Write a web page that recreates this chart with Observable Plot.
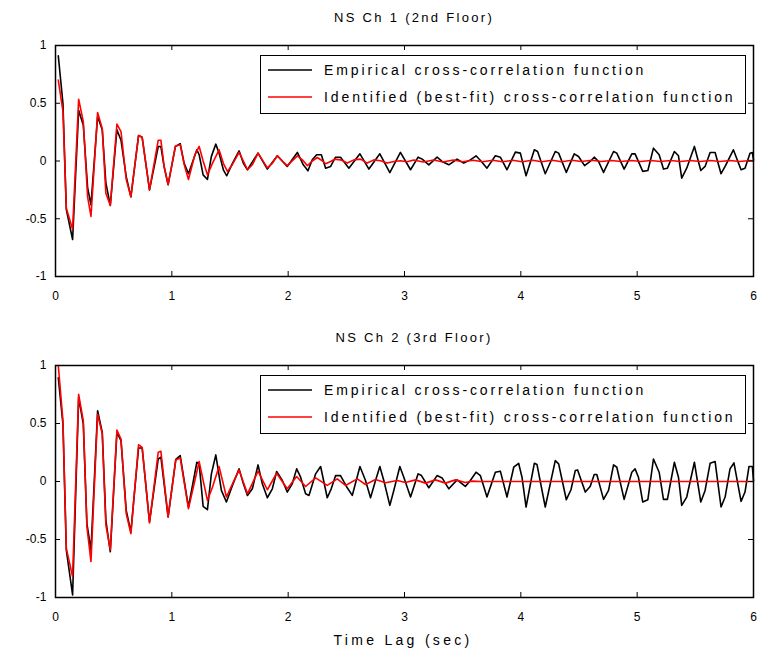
<!DOCTYPE html>
<html>
<head>
<meta charset="utf-8">
<script src="https://cdn.jsdelivr.net/npm/d3@7"></script>
<script src="https://cdn.jsdelivr.net/npm/@observablehq/plot@0.6"></script>
<style>
  html, body { margin: 0; padding: 0; background: #fff; }
  #page { position: relative; width: 761px; height: 655px; overflow: hidden; font-family: "Liberation Sans", Arial, Helvetica, sans-serif; color: #000; }
  .panel { position: absolute; left: 0; }
  .title { position: absolute; text-align: center; font-size: 13px; letter-spacing: 2.3px; white-space: nowrap; }
  .xlabel { position: absolute; text-align: center; font-size: 14px; letter-spacing: 3.3px; white-space: nowrap; }
  .legend { position: absolute; border: 1.5px solid #000; background: #fff; box-sizing: border-box; }
  .legrow { position: absolute; left: 6px; height: 16px; display: flex; align-items: center; font-size: 14px; letter-spacing: 2.9px; white-space: nowrap; }
  .legrow svg { margin-right: 11px; }
</style>
</head>
<body>
<div id="page"></div>
<script>
// ---------- data (lag in seconds, correlation value) ----------
const xTicks = [0, 1, 2, 3, 4, 5, 6];
const yTicks = [-1, -0.5, 0, 0.5, 1];
const panelTitles = ["NS Ch 1 (2nd Floor)", "NS Ch 2 (3rd Floor)"];
const seriesNames = ["Empirical cross-correlation function", "Identified (best-fit) cross-correlation function"];
const xLabel = "Time Lag (sec)";

const ch1Empirical = [
  [0.024,0.91],[0.064,0.50],[0.093,-0.42],[0.147,-0.68],[0.199,0.44],[0.239,0.31],[0.276,-0.23],[0.305,-0.38],
  [0.362,0.385],[0.402,0.27],[0.433,-0.19],[0.471,-0.385],[0.528,0.27],[0.563,0.18],[0.608,-0.135],[0.648,-0.31],
  [0.714,0.22],[0.745,0.205],[0.808,-0.25],[0.883,0.125],[0.906,0.125],[0.934,-0.05],[0.968,-0.205],
  [1.031,0.126],[1.072,0.15],[1.106,-0.02],[1.143,-0.11],[1.215,0.097],[1.235,0.054],[1.269,-0.12],[1.306,-0.16],
  [1.340,0.04],[1.378,0.146],[1.406,0.068],[1.443,-0.076],[1.472,-0.128],[1.521,-0.02],[1.578,0.088],[1.615,-0.02],
  [1.650,-0.076],[1.741,0.068],[1.821,-0.07],[1.907,0.045],[1.992,-0.047],[2.079,0.074],[2.130,-0.033],[2.170,-0.085],
  [2.207,0.01],[2.245,0.054],[2.285,0.054],[2.322,-0.062],[2.365,-0.047],[2.407,0.033],[2.450,0.033],[2.522,-0.062],
  [2.617,0.062],[2.694,-0.07],[2.788,0.062],[2.874,-0.1],[2.965,0.074],[3.052,-0.076],[3.117,0.033],[3.152,0.016],
  [3.209,-0.033],[3.280,0.033],[3.323,-0.004],[3.381,-0.033],[3.452,0.016],[3.509,-0.018],[3.566,0.01],[3.615,0.045],
  [3.661,-0.004],[3.709,-0.062],[3.781,0.045],[3.824,0.033],[3.881,-0.076],[3.953,0.077],[3.996,0.068],[4.045,-0.128],
  [4.116,0.097],[4.144,0.082],[4.210,-0.11],[4.296,0.082],[4.325,0.068],[4.391,-0.099],[4.459,0.062],[4.496,0.039],
  [4.548,-0.04],[4.596,-0.004],[4.631,0.033],[4.668,-0.004],[4.711,-0.099],[4.797,0.082],[4.825,0.068],[4.888,-0.07],
  [4.954,0.062],[4.982,0.062],[5.048,-0.09],[5.092,-0.082],[5.140,0.111],[5.189,0.054],[5.226,-0.07],[5.260,-0.062],
  [5.320,0.082],[5.355,0.045],[5.383,-0.148],[5.426,-0.062],[5.492,0.126],[5.547,-0.082],[5.584,-0.047],[5.627,0.074],
  [5.670,0.074],[5.721,-0.11],[5.756,-0.047],[5.827,0.097],[5.893,-0.076],[5.927,-0.062],[5.970,0.068],[5.990,0.074],
  [6.0,0.01]
];

const ch1Identified = [
  [0.024,0.70],[0.064,0.43],[0.093,-0.41],[0.147,-0.59],[0.199,0.535],[0.239,0.34],[0.276,-0.31],[0.305,-0.48],
  [0.362,0.42],[0.402,0.28],[0.433,-0.28],[0.471,-0.385],[0.528,0.32],[0.563,0.255],[0.608,-0.16],[0.648,-0.31],
  [0.714,0.22],[0.745,0.205],[0.808,-0.25],[0.883,0.18],[0.906,0.18],[0.934,-0.05],[0.968,-0.205],
  [1.031,0.13],[1.072,0.14],[1.106,-0.03],[1.143,-0.16],[1.197,0.05],[1.235,0.126],[1.269,0.0],[1.306,-0.12],
  [1.349,-0.02],[1.406,0.097],[1.443,-0.02],[1.478,-0.09],[1.521,-0.03],[1.578,0.074],[1.615,0.0],[1.650,-0.076],
  [1.692,-0.033],[1.741,0.068],[1.778,0.01],[1.821,-0.06],[1.864,-0.02],[1.907,0.045],[1.950,0.0],[1.992,-0.04],
  [2.079,0.045],[2.122,0.01],[2.165,-0.04],[2.207,0.0],[2.251,0.03],[2.293,0.002],[2.322,-0.024],[2.365,-0.004],
  [2.399,0.016],[2.450,0.01],[2.508,-0.018],[2.565,0.01],[2.622,0.016],[2.680,-0.018],[2.737,0.01],[2.794,0.002],
  [2.851,-0.018],[2.908,-0.004],[2.965,0.002],[3.023,-0.007],[3.08,0.009],[3.16,-0.008],[3.25,0.008],[3.33,-0.008],
  [3.42,0.008],[3.50,-0.007],[3.59,0.007],[3.67,-0.007],[3.76,0.007],[3.84,-0.007],[3.93,0.006],[4.01,-0.006],
  [4.10,0.006],[4.18,-0.006],[4.27,0.006],[4.35,-0.006],[4.44,0.006],[4.52,-0.005],[4.61,0.006],[4.69,-0.005],
  [4.78,0.005],[4.86,-0.005],[4.95,0.005],[5.03,-0.005],[5.12,0.005],[5.20,-0.005],[5.29,0.005],[5.37,-0.004],
  [5.46,0.005],[5.54,-0.004],[5.63,0.004],[5.71,-0.004],[5.80,0.004],[5.88,-0.004],[5.97,0.004],[6.0,0.0]
];

const ch2Empirical = [
  [0.024,0.895],[0.064,0.495],[0.093,-0.592],[0.147,-0.978],[0.199,0.723],[0.239,0.495],[0.270,-0.363],[0.305,-0.59],
  [0.362,0.61],[0.402,0.423],[0.433,-0.334],[0.471,-0.606],[0.528,0.423],[0.563,0.352],[0.608,-0.249],[0.648,-0.435],
  [0.714,0.289],[0.745,0.289],[0.808,-0.349],[0.883,0.194],[0.906,0.209],[0.968,-0.306],[1.034,0.19],
  [1.072,0.223],[1.106,0.009],[1.143,-0.22],[1.215,0.166],[1.235,0.152],[1.269,-0.214],[1.306,-0.243],[1.340,0.066],
  [1.378,0.229],[1.426,-0.077],[1.469,-0.177],[1.521,-0.034],[1.578,0.109],[1.615,-0.02],[1.650,-0.12],[1.692,-0.063],
  [1.741,0.143],[1.778,-0.02],[1.821,-0.14],[1.864,-0.063],[1.901,0.086],[1.950,0.009],[1.992,-0.091],[2.035,-0.02],
  [2.073,0.109],[2.107,0.037],[2.150,-0.106],[2.179,-0.12],[2.236,0.066],[2.279,0.129],[2.336,-0.14],[2.370,-0.063],
  [2.408,0.051],[2.450,0.051],[2.508,-0.054],[2.551,-0.12],[2.617,0.129],[2.665,0.009],[2.708,-0.14],[2.751,0.009],
  [2.788,0.129],[2.822,0.009],[2.874,-0.206],[2.908,-0.077],[2.960,0.129],[2.994,0.037],[3.052,-0.134],[3.117,0.066],
  [3.146,0.051],[3.209,-0.054],[3.280,0.051],[3.323,0.031],[3.381,-0.063],[3.452,0.014],[3.523,-0.043],[3.566,0.009],
  [3.615,0.08],[3.652,0.051],[3.709,-0.134],[3.781,0.08],[3.824,0.089],[3.881,-0.134],[3.939,0.123],[3.981,0.157],
  [4.010,0.037],[4.045,-0.22],[4.116,0.157],[4.139,0.146],[4.210,-0.22],[4.296,0.18],[4.325,0.152],[4.391,-0.157],
  [4.431,-0.071],[4.468,0.094],[4.488,0.1],[4.554,-0.091],[4.596,-0.043],[4.631,0.06],[4.653,0.06],[4.711,-0.154],
  [4.754,-0.077],[4.797,0.143],[4.825,0.123],[4.888,-0.154],[4.954,0.08],[4.982,0.109],[5.011,0.037],[5.048,-0.177],
  [5.092,-0.157],[5.140,0.194],[5.189,0.08],[5.226,-0.154],[5.260,-0.154],[5.320,0.166],[5.355,0.037],[5.383,-0.206],
  [5.426,-0.134],[5.492,0.166],[5.547,-0.177],[5.584,-0.077],[5.627,0.157],[5.670,0.172],[5.721,-0.22],[5.756,-0.134],
  [5.798,0.109],[5.832,0.16],[5.893,-0.171],[5.927,-0.091],[5.961,0.129],[5.990,0.129],[6.0,0.009]
];

const ch2Identified = [
  [0.024,1.0],[0.064,0.523],[0.093,-0.577],[0.147,-0.82],[0.199,0.752],[0.239,0.523],[0.270,-0.39],[0.305,-0.69],
  [0.362,0.58],[0.402,0.41],[0.433,-0.377],[0.471,-0.59],[0.528,0.443],[0.563,0.366],[0.608,-0.277],[0.648,-0.449],
  [0.714,0.317],[0.745,0.294],[0.808,-0.357],[0.883,0.252],[0.906,0.26],[0.968,-0.306],[1.034,0.186],
  [1.072,0.203],[1.143,-0.234],[1.235,0.172],[1.269,0.009],[1.306,-0.163],[1.349,-0.049],[1.406,0.129],[1.449,-0.049],
  [1.469,-0.134],[1.521,-0.02],[1.578,0.1],[1.650,-0.106],[1.741,0.089],[1.821,-0.071],[1.901,0.071],[1.992,-0.063],
  [2.073,0.043],[2.150,-0.043],[2.236,0.031],[2.336,-0.034],[2.422,0.023],[2.493,-0.034],[2.594,0.023],[2.665,-0.026],
  [2.751,0.017],[2.837,-0.011],[2.937,0.009],[3.009,-0.009],[3.095,0.014],[3.181,-0.014],[3.266,0.014],[3.352,-0.014],
  [3.438,0.014],[3.523,-0.009],[3.580,0.003],[3.66,0.0],[4.0,0.0],[4.5,0.0],[5.0,0.0],[5.5,0.0],[6.0,0.0]
];

// ---------- drawing ----------
const page = document.getElementById("page");
const fmt = d => String(d);
const FRAME_W = 761 - 55 - 8;
const TICK = 5;

function panel(emp, fit, frameH) {
  const asRows = arr => arr.map(([t, v]) => ({t, v}));
  return Plot.plot({
    width: 761,
    height: 45 + frameH + 35,
    marginLeft: 55, marginRight: 8, marginTop: 45, marginBottom: 35,
    x: {domain: [0, 6]},
    y: {domain: [-1, 1]},
    style: {fontFamily: "'Liberation Sans', Arial, sans-serif", fontSize: "12px", color: "#000", background: "transparent", overflow: "visible"},
    marks: [
      Plot.line(asRows(emp), {x: "t", y: "v", stroke: "#000", strokeWidth: 1.6}),
      Plot.line(asRows(fit), {x: "t", y: "v", stroke: "#ff0000", strokeWidth: 1.6}),
      // inward tick marks on all four sides
      Plot.ruleX(xTicks, {x: d => d, insetTop: frameH - TICK, stroke: "#000"}),
      Plot.ruleX(xTicks, {x: d => d, insetBottom: frameH - TICK, stroke: "#000"}),
      Plot.ruleY(yTicks, {y: d => d, insetRight: FRAME_W - TICK, stroke: "#000"}),
      Plot.ruleY(yTicks, {y: d => d, insetLeft: FRAME_W - TICK, stroke: "#000"}),
      Plot.axisX(xTicks, {anchor: "bottom", tickSize: 0, tickPadding: 15, tickFormat: fmt, label: null, fontSize: 12}),
      Plot.axisY(yTicks, {anchor: "left", tickSize: 0, tickPadding: 9, tickFormat: fmt, label: null, fontSize: 12}),
      Plot.frame({stroke: "#000", strokeWidth: 1.5})
    ]
  });
}

function addPanel(top, emp, fit, frameH, title, legendTop) {
  const svg = panel(emp, fit, frameH);
  svg.classList.add("panel");
  svg.style.top = top + "px";
  page.appendChild(svg);

  const t = document.createElement("div");
  t.className = "title";
  t.textContent = title;
  t.style.left = "114px";
  t.style.width = "600px";
  t.style.top = (top + 10) + "px";
  page.appendChild(t);

  const leg = document.createElement("div");
  leg.className = "legend";
  leg.style.left = "260px";
  leg.style.top = legendTop + "px";
  leg.style.width = "486px";
  leg.style.height = "59px";
  [["#000", seriesNames[0], 6], ["#ff0000", seriesNames[1], 33]].forEach(([color, name, y]) => {
    const row = document.createElement("div");
    row.className = "legrow";
    row.style.top = y + "px";
    row.innerHTML = `<svg width="46" height="4"><line x1="1" x2="45" y1="2" y2="2" stroke="${color}" stroke-width="1.6"/></svg><span></span>`;
    row.querySelector("span").textContent = name;
    leg.appendChild(row);
  });
  page.appendChild(leg);
}

addPanel(0, ch1Empirical, ch1Identified, 231, panelTitles[0], 55);
addPanel(320, ch2Empirical, ch2Identified, 232, panelTitles[1], 375);

const xl = document.createElement("div");
xl.className = "xlabel";
xl.textContent = xLabel;
xl.style.left = "103px";
xl.style.width = "600px";
xl.style.top = "632px";
page.appendChild(xl);
</script>
</body>
</html>
